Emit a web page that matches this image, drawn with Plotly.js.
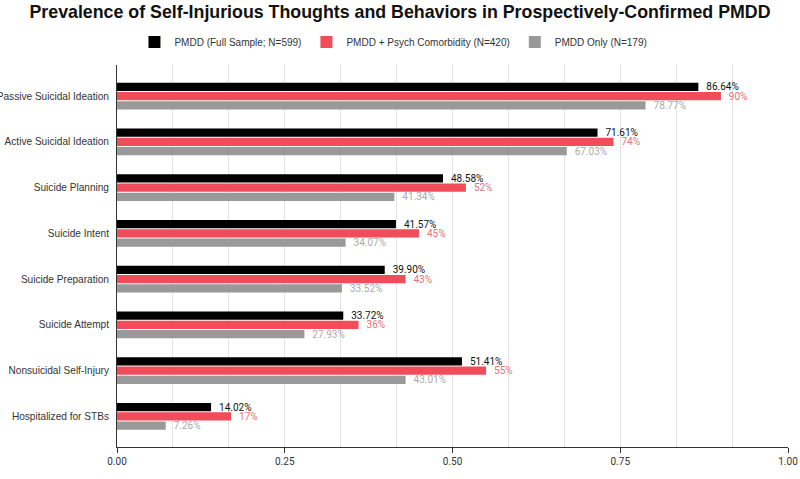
<!DOCTYPE html>
<html>
<head>
<meta charset="utf-8">
<script src="https://cdn.plot.ly/plotly-3.0.1.min.js"></script>
<style>html,body{margin:0;padding:0;background:#fff;}#chart{width:800px;height:479px;}</style>
</head>
<body>
<div id="chart"></div>
<script>
const categories = ["Passive Suicidal Ideation","Active Suicidal Ideation","Suicide Planning","Suicide Intent","Suicide Preparation","Suicide Attempt","Nonsuicidal Self-Injury","Hospitalized for STBs"];
const fullSample = [0.8664,0.7161,0.4858,0.4157,0.3990,0.3372,0.5141,0.1402];
const comorbid = [0.90,0.74,0.52,0.45,0.43,0.36,0.55,0.17];
const pmddOnly = [0.7877,0.6703,0.4134,0.3407,0.3352,0.2793,0.4301,0.0726];
const seriesNames = ["PMDD (Full Sample; N=599)","PMDD + Psych Comorbidity (N=420)","PMDD Only (N=179)"];

function fmt(v, dec){ return '\u00a0\u00a0' + (v*100).toFixed(dec) + '%'; }

const specs = [
  {y: fullSample, name: seriesNames[0], color: '#000000', txt: '#111111', dec: 2},
  {y: comorbid, name: seriesNames[1], color: '#f04c5a', txt: '#e8707a', dec: 0},
  {y: pmddOnly, name: seriesNames[2], color: '#999999', txt: '#aaaaaa', dec: 2}
];

const traces = specs.map(s => ({
  type: 'bar', orientation: 'h',
  y: categories, x: s.y, name: s.name,
  marker: {color: s.color, line: {width: 0}},
  text: s.y.map(v => fmt(v, s.dec)),
  textposition: 'outside', cliponaxis: false, constraintext: 'none',
  textfont: {family: 'Roboto, Arial, sans-serif', size: 10, color: s.txt},
  hoverinfo: 'none'
}));

const layout = {
  width: 800, height: 479,
  margin: {l: 117, r: 12, t: 65, b: 32, pad: 0},
  paper_bgcolor: '#fff', plot_bgcolor: '#fff',
  font: {family: '"Liberation Sans", Arial, sans-serif', color: '#333'},
  title: {text: '<b>Prevalence of Self-Injurious Thoughts and Behaviors in Prospectively-Confirmed PMDD</b>',
          font: {family: '"Liberation Sans", Arial, sans-serif', size: 17.8, color: '#111'},
          x: 0.5, xanchor: 'center', xref: 'container', y: 0.975, yanchor: 'middle'},
  barmode: 'group', bargap: 0.39, bargroupgap: 0.12,
  showlegend: true,
  legend: {orientation: 'h', x: 0.412, xanchor: 'center', y: 1.06, yanchor: 'middle',
           font: {size: 10, color: '#333', family: '"Liberation Sans", Arial, sans-serif'}, traceorder: 'normal'},
  xaxis: {range: [0, 1], dtick: 0.25, tick0: 0, tickformat: '.2f',
          showgrid: true, gridcolor: '#e3e3e3', gridwidth: 1,
          minor: {dtick: 1/12, tick0: 0, showgrid: true, gridcolor: '#e3e3e3', gridwidth: 1},
          showline: true, linecolor: '#333', linewidth: 1,
          ticks: 'outside', ticklen: 5, tickcolor: '#333',
          tickfont: {size: 10, color: '#333', family: 'Roboto, Arial, sans-serif'}, zeroline: false, fixedrange: true},
  yaxis: {range: [7.67, -0.68], type: 'category',
          showline: true, linecolor: '#333', linewidth: 1, ticks: '', showgrid: false,
          tickfont: {size: 10.1, color: '#333'}, automargin: false, ticklabelstandoff: 5, zeroline: false}
};

Plotly.newPlot('chart', traces, layout, {displayModeBar: false, staticPlot: true});
</script>
</body>
</html>
